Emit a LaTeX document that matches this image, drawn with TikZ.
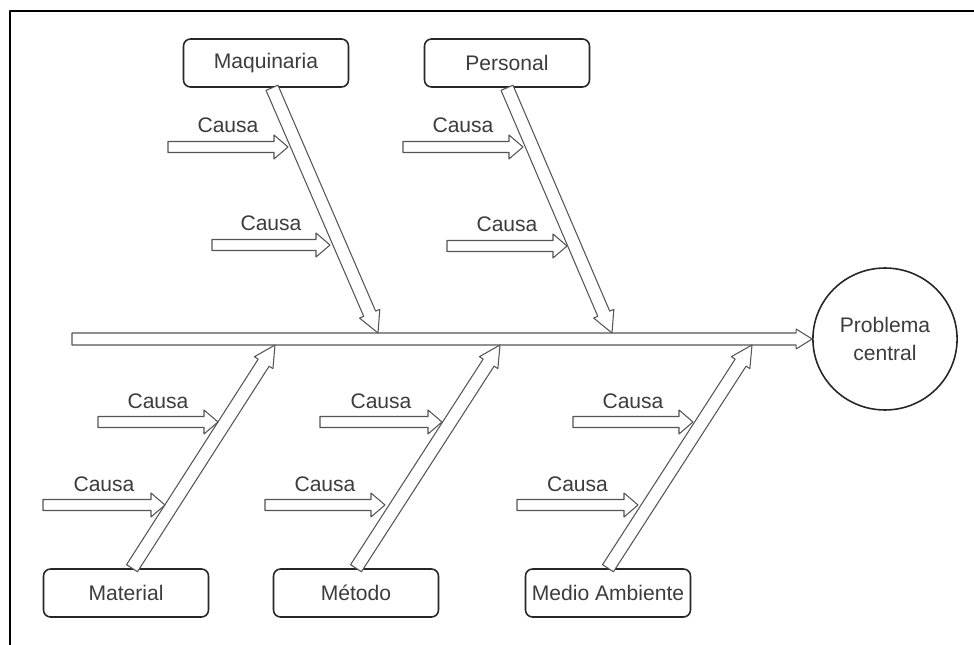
\documentclass[tikz,border=0pt]{standalone}
\usepackage{fontspec}
\setmainfont{Liberation Sans}
\usetikzlibrary{calc,shapes.geometric}
\definecolor{linegray}{HTML}{555555}
\definecolor{textgray}{HTML}{3C3C3C}
% flecha hueca: inicio, punta, medio ancho, medio ancho punta, largo punta
\newcommand{\hollow}[5]{%
  \coordinate (hb) at ($(#2)!#5!(#1)$);
  \draw[arw] ($(#1)!#3!90:(#2)$) -- ($(hb)!#3!90:(#2)$) -- ($(hb)!#4!90:(#2)$) -- (#2)
    -- ($(hb)!#4!-90:(#2)$) -- ($(hb)!#3!-90:(#2)$) -- ($(#1)!#3!-90:(#2)$) -- cycle;
}
\begin{document}
\begin{tikzpicture}[x=0.02cm, y=-0.02cm, line join=round, font=\fontsize{12}{15.5}\selectfont,
		arw/.style={draw=linegray, line width=0.6pt, fill=white},
		cat/.style={draw=black!85, line width=0.9pt, rounded corners=0.14cm, minimum width=3.3cm, minimum height=0.96cm, inner sep=1pt, text=textgray},
		causa/.style={anchor=base, text=textgray, inner sep=0pt}]
			\useasboundingbox (0,0) rectangle (974,645);
			\draw[line width=1.7pt] (974,11) -- (10,11) -- (10,645);
			% efecto
			\node[ellipse, draw=black!85, line width=0.9pt, minimum width=2.66cm, minimum height=2.84cm, align=center, text=textgray] (pc) at (885,339) {Problema\\central};
			% categorias
			\node[cat] (mq) at (266,63) {Maquinaria};
			\node[cat] (ps) at (507,63) {Personal};
			\node[cat] (mt) at (126,593) {Material};
			\node[cat] (me) at (356,593) {Método};
			\node[cat] (ma) at (608,593) {Medio Ambiente};
			% espina central
			\coordinate (sp) at (72,339);
			\hollow{sp}{pc.west}{0.12cm}{0.2cm}{0.32cm}
			% espinas
			\coordinate (bmq) at ($(mq.south)+(6,0)$);
			\coordinate (bmt) at ($(mt.north)+(6,0)$);
			\coordinate (emq) at (378,333);
			\coordinate (eps) at (612,333);
			\coordinate (emt) at (275,345);
			\coordinate (eme) at (500,345);
			\coordinate (ema) at (752,345);
			\hollow{bmq}{emq}{0.13cm}{0.22cm}{0.42cm}
			\hollow{ps.south}{eps}{0.13cm}{0.22cm}{0.42cm}
			\hollow{bmt}{emt}{0.13cm}{0.22cm}{0.42cm}
			\hollow{me.north}{eme}{0.13cm}{0.22cm}{0.42cm}
			\hollow{ma.north}{ema}{0.13cm}{0.22cm}{0.42cm}
			% causas
			\foreach \xa/\xb/\y [count=\i] in {168/288/147, 212/330/245, 403/523/147, 447/567/246, 98/218/422, 43/165/505, 320/442/422, 265/385/505, 573/693/422, 517/638/505}{
				\coordinate (ct) at (\xa,\y);
				\coordinate (ch) at (\xb,\y);
				\hollow{ct}{ch}{0.11cm}{0.24cm}{0.28cm}
				\node[causa] (c\i) at ($(ct)!0.5!(ch)+(0,-14)$) {Causa};
			}
		\end{tikzpicture}
\end{document}
